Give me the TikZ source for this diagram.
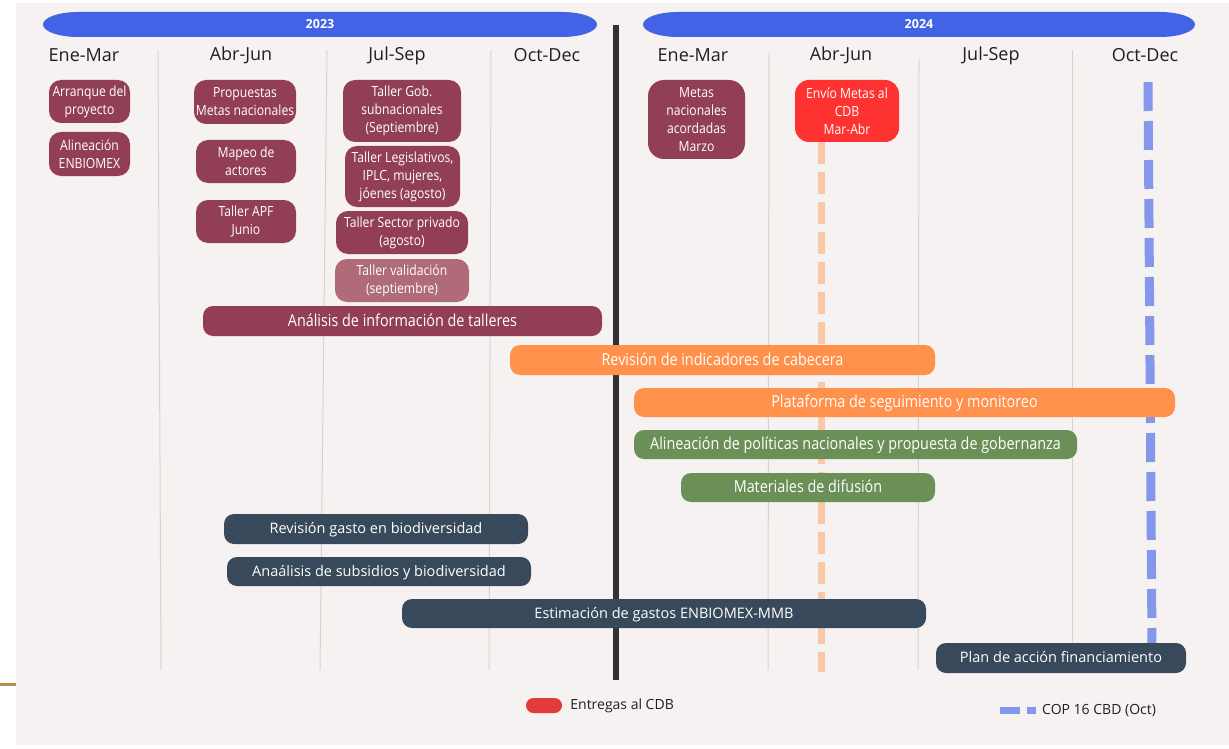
\documentclass[tikz,border=0pt]{standalone}
\usepackage{fontspec}
\setmainfont{Open Sans}
\newfontfamily\condfont[FakeStretch=0.87]{Open Sans}
\usetikzlibrary{positioning}

\definecolor{fondo}{HTML}{F6F2F1}
\definecolor{azul}{HTML}{4363E6}
\definecolor{granate}{HTML}{923F55}
\definecolor{granateclaro}{HTML}{B06B79}
\definecolor{rojo}{HTML}{FF3232}
\definecolor{naranja}{HTML}{FF914D}
\definecolor{verde}{HTML}{6A8F57}
\definecolor{pizarra}{HTML}{37495A}
\definecolor{durazno}{HTML}{F9C8A7}
\definecolor{lila}{HTML}{8497EC}
\definecolor{rojoleg}{HTML}{E23B3B}
\definecolor{divisor}{HTML}{333333}
\definecolor{gris}{HTML}{D6D2D0}
\definecolor{ocre}{HTML}{B98B4F}

\begin{document}
\begin{tikzpicture}[x=1pt,y=-1pt,
    caja/.style={fill=granate,text=white,rounded corners=12pt,inner sep=0pt,align=center,
      font=\condfont\fontsize{14}{18}\selectfont},
    barra/.style={rounded corners=10pt,inner sep=0pt,text=white,text depth=2pt,
      font=\condfont\fontsize{16.5}{20}\selectfont},
    barraosc/.style={barra,fill=pizarra,font=\fontsize{14.5}{18}\selectfont},
    trimestre/.style={text=black!88,font=\fontsize{18}{22}\selectfont},
    anio/.style={text=white,font=\bfseries\fontsize{12.5}{15}\selectfont},
    rejilla/.style={draw=gris,line width=1pt}]
    \useasboundingbox (0,0) rectangle (1229,749);

    % Dessine le fond
    \fill[fondo] (16,3) rectangle (1229,745);
    \draw[ocre,line width=3pt] (0,684) -- (16,684);

    % Dessine les années
    \foreach \xa/\xb/\anio in {43/597/2023, 643/1195/2024}{
      \fill[azul] (\xa+35,12) -- (\xb-35,12) arc[start angle=-90,end angle=90,x radius=35,y radius=12.5]
        -- (\xa+35,37) arc[start angle=90,end angle=270,x radius=35,y radius=12.5] -- cycle;
      \node[anio] (a\anio) at ({(\xa+\xb)/2},24.5) {\anio};
    }

    % Dessine les trimestres
    \foreach \x/\t [count=\i] in {84/Ene-Mar, 241/Abr-Jun, 397/Jul-Sep, 547/Oct-Dec,
        693/Ene-Mar, 841/Abr-Jun, 991/Jul-Sep, 1145/Oct-Dec}
      \node[trimestre] (t\i) at (\x,55.5) {\t};
    \foreach \xa/\xb/\ya in {158/161/50, 327/320/50, 491/489/50, 769/768/53, 919/918/60, 1072/1072/50}
      \draw[rejilla] (\xa,\ya) -- (\xb,670);
    \draw[divisor,line width=6pt] (616,25) -- (616,680);

    % Dessine les lignes pointillées
    \draw[durazno,line width=7pt,dash pattern=on 22pt off 8pt] (821,142) -- (821,672);
    \draw[lila,line width=9pt,dash pattern=on 29pt off 10pt] (1148,82) -- (1152,645);

    % Dessine les ateliers
    \node[caja,minimum width=81pt,minimum height=43pt] (arranque) at (89.5,101.5) {Arranque del\\proyecto};
    \node[caja,minimum width=81pt,minimum height=44pt] (alineacion) at (89.5,154) {Alineación\\ENBIOMEX};
    \node[caja,minimum width=102pt,minimum height=44pt] (propuestas) at (245,102) {Propuestas\\Metas nacionales};
    \node[caja,minimum width=100pt,minimum height=43pt] (mapeo) at (246,161.5) {Mapeo de\\actores};
    \node[caja,minimum width=100pt,minimum height=43pt] (apf) at (246,221.5) {Taller APF\\Junio};
    \node[caja,minimum width=118pt,minimum height=62pt] (gob) at (402,111) {Taller Gob.\\subnacionales\\(Septiembre)};
    \node[caja,minimum width=115pt,minimum height=61pt] (legis) at (402.5,176.5) {Taller Legislativos,\\IPLC, mujeres,\\jóenes (agosto)};
    \node[caja,minimum width=132pt,minimum height=43pt] (privado) at (402,232.5) {Taller Sector privado\\(agosto)};
    \node[caja,fill=granateclaro,minimum width=134pt,minimum height=43pt] (validacion) at (402,280.5) {Taller validación\\(septiembre)};
    \node[caja,rounded corners=16pt,minimum width=97pt,minimum height=79pt] (metas) at (696.5,119.5) {Metas\\nacionales\\acordadas\\Marzo};
    \node[caja,fill=rojo,rounded corners=14pt,minimum width=104pt,minimum height=62pt] (envio) at (847,111) {Envío Metas al\\CDB\\Mar-Abr};

    % Dessine les barres
    \node[barra,fill=granate,minimum width=399pt,minimum height=30pt] (analisis) at (402.5,321) {Análisis de información de talleres};
    \node[barra,fill=naranja,minimum width=425pt,minimum height=30pt] (revision) at (722.5,360) {Revisión de indicadores de cabecera};
    \node[barra,fill=naranja,minimum width=541pt,minimum height=29pt] (plataforma) at (904.5,402.5) {Plataforma de seguimiento y monitoreo};
    \node[barra,fill=verde,minimum width=443pt,minimum height=29pt] (politicas) at (855.5,444.5) {Alineación de políticas nacionales y propuesta de gobernanza};
    \node[barra,fill=verde,minimum width=254pt,minimum height=29pt] (materiales) at (808,487.5) {Materiales de difusión};
    \node[barraosc,minimum width=304pt,minimum height=30pt] (gasto) at (376,529) {Revisión gasto en biodiversidad};
    \node[barraosc,minimum width=304pt,minimum height=29pt] (subsidios) at (379,571.5) {Anaálisis de subsidios y biodiversidad};
    \node[barraosc,minimum width=524pt,minimum height=29pt] (estimacion) at (664,613.5) {Estimación de gastos ENBIOMEX-MMB};
    \node[barraosc,minimum width=250pt,minimum height=30pt] (plan) at (1061,658) {Plan de acción financiamiento};

    % Légende
    \node[fill=rojoleg,rounded corners=7.5pt,minimum width=36pt,minimum height=15pt,inner sep=0pt] (legrojo) at (544,705.5) {};
    \node[right=8pt of legrojo,inner sep=0pt,text=black!88,font=\fontsize{14}{17}\selectfont] (legentregas) {Entregas al CDB};
    \draw[lila,line width=7pt,dash pattern=on 20pt off 7pt] (1000,710.5) coordinate (legcop) -- (1036,710.5);
    \node[anchor=west,inner sep=0pt,text=black!88,font=\fontsize{14}{17}\selectfont] (legtexto) at (1042,711) {COP 16 CBD (Oct)};

\end{tikzpicture}
\end{document}
